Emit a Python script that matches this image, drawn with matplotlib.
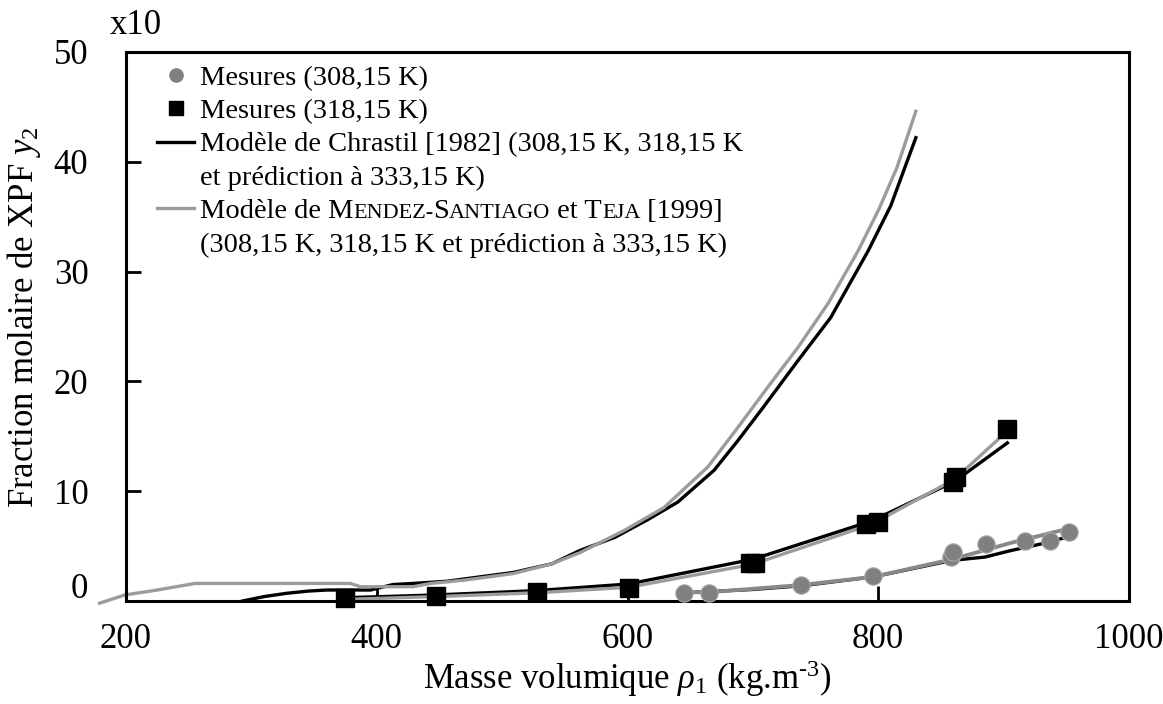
import matplotlib
matplotlib.use("Agg")
import matplotlib.pyplot as plt
from matplotlib.lines import Line2D
from matplotlib.transforms import ScaledTranslation

# ---- data ----
# mesures a 308,15 K (ronds gris)
rho_308 = [645, 665, 738, 796, 858, 860, 886, 917, 937, 952]
y_308 = [0.75, 0.75, 1.45, 2.3, 4.0, 4.5, 5.15, 5.5, 5.5, 6.3]

# mesures a 318,15 K (carres noirs)
rho_318 = [375, 447, 528, 601, 698, 702, 790, 800, 860, 862, 903]
y_318 = [0.25, 0.45, 0.8, 1.2, 3.5, 3.5, 7.0, 7.2, 10.8, 11.3, 15.7]

# modele de Chrastil (noir)
chr_308_x = [645, 700, 740, 796, 859, 885, 906, 930, 950]
chr_308_y = [0.75, 1.05, 1.4, 2.2, 3.7, 4.0, 4.6, 5.2, 5.8]
chr_318_x = [375, 447, 528, 601, 700, 795, 861, 903]
chr_318_y = [0.3, 0.55, 0.95, 1.55, 3.8, 7.3, 10.9, 14.4]
chr_333_x = [293, 310, 328, 345, 360, 395, 413, 429, 456, 509, 540, 562,
             590, 616, 640, 669, 688, 708, 736, 762, 792, 810, 830]
chr_333_y = [0.0, 0.4, 0.7, 0.9, 1.0, 1.0, 1.5, 1.6, 1.8, 2.6, 3.4, 4.6,
             5.8, 7.4, 9.0, 11.9, 14.6, 17.6, 21.9, 25.8, 31.9, 36.0, 42.2]

# modele de Mendez-Santiago et Teja (gris)
mst_308_x = [644, 665, 738, 796, 859, 906, 952]
mst_308_y = [0.8, 0.8, 1.45, 2.2, 3.8, 5.3, 6.6]
mst_318_x = [375, 447, 528, 601, 700, 795, 861, 905]
mst_318_y = [0.15, 0.4, 0.75, 1.25, 3.35, 7.0, 11.1, 15.7]
mst_333_x = [179, 199, 225, 255, 379, 387, 429, 443, 470, 509, 540, 562,
             597, 629, 664, 688, 714, 736, 760, 784, 801, 815, 830]
mst_333_y = [-0.2, 0.55, 1.0, 1.6, 1.6, 1.3, 1.3, 1.6, 1.9, 2.5, 3.4, 4.4,
             6.4, 8.5, 12.2, 15.8, 19.8, 23.1, 27.1, 31.9, 35.8, 39.5, 44.6]

x_ticks = [200, 400, 600, 800, 1000]
y_ticks = [0, 10, 20, 30, 40, 50]
legend_labels = [
    "Mesures (308,15 K)",
    "Mesures (318,15 K)",
    "Modèle de Chrastil [1982] (308,15 K, 318,15 K",
    "et prédiction à 333,15 K)",
    "Modèle de M",
    "(308,15 K, 318,15 K et prédiction à 333,15 K)",
]
# suite du libelle Mendez-Santiago en petites capitales
smallcaps_parts = [("ENDEZ-", True), ("S", False), ("ANTIAGO", True),
                   (" et T", False), ("EJA", True), (" [1999]", False)]

plt.rcParams["font.family"] = ["Liberation Serif", "DejaVu Serif"]
plt.rcParams["mathtext.fontset"] = "custom"
plt.rcParams["mathtext.rm"] = "Liberation Serif"
plt.rcParams["mathtext.it"] = "Liberation Serif:italic"

PT_COLOR = "#808080"
MST_COLOR = "#9c9c9c"
LW = 2.4
FS = 25
LEG_FS = 20.5
SC_FS = 16

fig = plt.figure(figsize=(11.63, 7.04), dpi=100)
ax = fig.add_axes([126 / 1163, 1 - 601 / 704, 1003 / 1163, 549 / 704])

# courbes des modeles
for xs, ys in [(chr_308_x, chr_308_y), (chr_318_x, chr_318_y), (chr_333_x, chr_333_y)]:
    ax.plot(xs, ys, color="black", lw=LW, clip_on=False, zorder=2)
ax.plot(mst_308_x, mst_308_y, color="#888888", lw=LW + 0.4, clip_on=False, zorder=2.5)
for xs, ys in [(mst_318_x, mst_318_y), (mst_333_x, mst_333_y)]:
    ax.plot(xs, ys, color=MST_COLOR, lw=LW, clip_on=False, zorder=2.5)

# points experimentaux
ax.plot(rho_308, y_308, ls="none", marker="o", ms=12.5, color=PT_COLOR,
        mec="#a8a8a8", mew=0.8, clip_on=False, zorder=3)
ax.plot(rho_318, y_318, ls="none", marker="s", ms=12.5, color="black",
        clip_on=False, zorder=3)

ax.set_xlim(200, 1000)
ax.set_ylim(0, 50)
ax.set_xticks(x_ticks)
ax.set_yticks(y_ticks)
ax.tick_params(direction="in", length=11, width=2, labelsize=FS)
ax.tick_params(axis="x", pad=16)
ax.tick_params(axis="y", pad=27)
for sp in ax.spines.values():
    sp.set_linewidth(2.2)

# le "0" de l'axe y est decale vers le haut dans l'original
lab0 = ax.yaxis.get_major_ticks()[0].label1
lab0.set_transform(lab0.get_transform() + ScaledTranslation(0, 0.15, fig.dpi_scale_trans))

ax.set_xlabel(r"Masse volumique $\rho_{\mathit{1}}$ (kg.m$^{\text{-3}}$)", fontsize=FS)
ax.xaxis.set_label_coords(0.5, -0.104)
ax.set_ylabel(r"Fraction molaire de XPF $y_{\mathit{2}}$", fontsize=FS)
ax.yaxis.set_label_coords(-0.083, 0.517)

fig.text(136 / 1163, 1 - 25 / 704, "x10", fontsize=FS, ha="center", va="center")

# legende
handles = [
    Line2D([], [], ls="none", marker="o", ms=9.5, color=PT_COLOR),
    Line2D([], [], ls="none", marker="s", ms=9.5, color="black"),
    Line2D([], [], color="black", lw=LW),
    Line2D([], [], ls="none"),
    Line2D([], [], color=MST_COLOR, lw=LW),
    Line2D([], [], ls="none"),
]
leg = ax.legend(handles, legend_labels, loc="upper left",
                bbox_to_anchor=(157 / 1163, 1 - 65 / 704), bbox_transform=fig.transFigure,
                frameon=False, fontsize=LEG_FS, handlelength=1.3, handletextpad=0.2,
                labelspacing=0.26, borderpad=0, borderaxespad=0)

base = leg.get_texts()[4]
prev = base
lift = 0.216 * (LEG_FS - SC_FS)
for txt, small in smallcaps_parts:
    prev = ax.annotate(txt, xy=(1, 0), xycoords=(prev, base),
                       xytext=(0, lift if small else 0), textcoords="offset points",
                       fontsize=SC_FS if small else LEG_FS, ha="left", va="bottom",
                       zorder=6, annotation_clip=False)

fig.savefig("out.png", dpi=100)
